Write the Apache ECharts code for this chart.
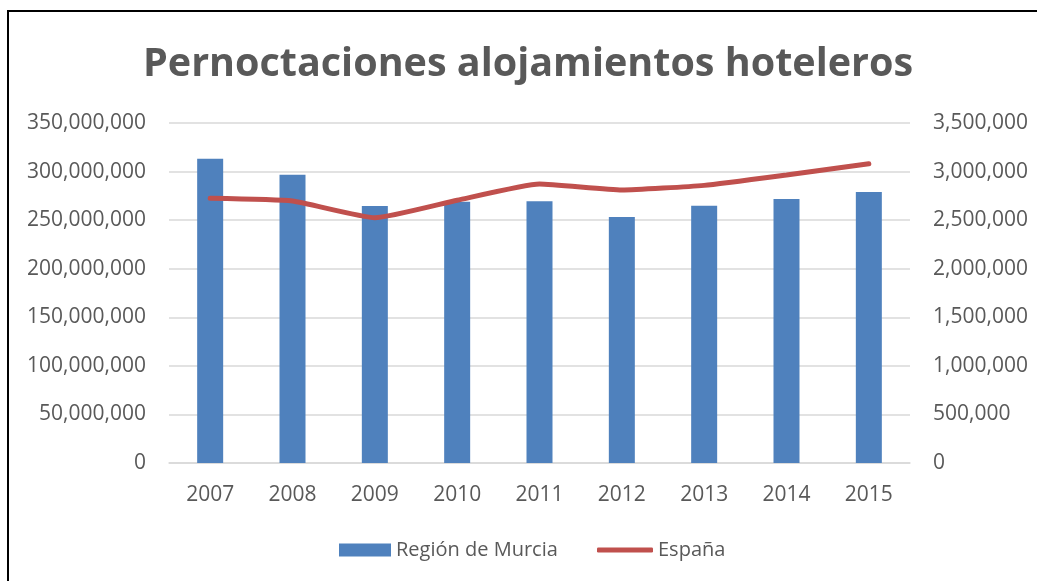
<!DOCTYPE html>
<html>
<head>
<meta charset="utf-8">
<script src="https://cdn.jsdelivr.net/npm/echarts@6/dist/echarts.min.js"></script>
<style>
  html, body { margin: 0; padding: 0; background: #fff; }
  #main { width: 1037px; height: 581px; }
</style>
</head>
<body>
<div id="main"></div>
<script>
// years on the x axis
const years = ['2007', '2008', '2009', '2010', '2011', '2012', '2013', '2014', '2015'];
// pernoctaciones, Región de Murcia (right axis)
const murcia = [3133000, 2968000, 2646000, 2690000, 2694000, 2532000, 2648000, 2718000, 2790000];
// pernoctaciones, España (left axis)
const espana = [272500000, 269700000, 252500000, 270500000, 287200000, 281000000, 285800000, 296500000, 308000000];

const GREY = '#595959';
const FONT = "'Open Sans', 'Noto Sans', sans-serif";
const fmt = v => v.toLocaleString('en-US');
const labelStyle = { fontFamily: FONT, fontSize: 21, color: GREY };

const chart = echarts.init(document.getElementById('main'));
chart.setOption({
  animation: false,
  backgroundColor: '#fff',
  graphic: [{
    type: 'rect',
    shape: { x: 8, y: 11, width: 1200, height: 700 },
    style: { fill: 'none', stroke: '#000', lineWidth: 2 },
    silent: true
  }],
  title: {
    text: 'Pernoctaciones alojamientos hoteleros',
    left: 138,
    top: 40,
    textStyle: {
      fontFamily: FONT,
      fontWeight: 'bold',
      fontSize: 39.5,
      color: GREY
    }
  },
  legend: [
    {
      left: 334,
      top: 535,
      itemWidth: 52,
      itemHeight: 13,
      textStyle: { fontFamily: FONT, fontSize: 20, color: GREY },
      data: [{ name: 'Región de Murcia', icon: 'rect' }]
    },
    {
      left: 592,
      top: 535,
      itemWidth: 56,
      itemHeight: 5,
      textStyle: { fontFamily: FONT, fontSize: 20, color: GREY },
      data: [{ name: 'España', icon: 'roundRect', itemStyle: { color: '#C0504D' } }]
    }
  ],
  grid: { left: 169, right: 127, top: 123, bottom: 118 },
  xAxis: {
    type: 'category',
    data: years,
    axisTick: { show: false },
    axisLine: { lineStyle: { color: '#D9D9D9', width: 1.5 } },
    axisLabel: Object.assign({ margin: 22 }, labelStyle)
  },
  yAxis: [
    {
      type: 'value',
      min: 0, max: 350000000, interval: 50000000,
      axisLine: { show: false },
      axisTick: { show: false },
      splitLine: { lineStyle: { color: '#D9D9D9', width: 1.5 } },
      axisLabel: Object.assign({ margin: 23, formatter: fmt }, labelStyle)
    },
    {
      type: 'value',
      min: 0, max: 3500000, interval: 500000,
      axisLine: { show: false },
      axisTick: { show: false },
      splitLine: { show: false },
      axisLabel: Object.assign({ margin: 23, formatter: fmt }, labelStyle)
    }
  ],
  series: [
    {
      name: 'Región de Murcia',
      type: 'bar',
      yAxisIndex: 1,
      data: murcia,
      barWidth: 26,
      itemStyle: { color: '#4F81BD' }
    },
    {
      name: 'España',
      type: 'line',
      yAxisIndex: 0,
      data: espana,
      smooth: 0.15,
      symbol: 'none',
      lineStyle: { color: '#C0504D', width: 5, cap: 'round' },
      itemStyle: { color: '#C0504D' }
    }
  ]
});
</script>
</body>
</html>
